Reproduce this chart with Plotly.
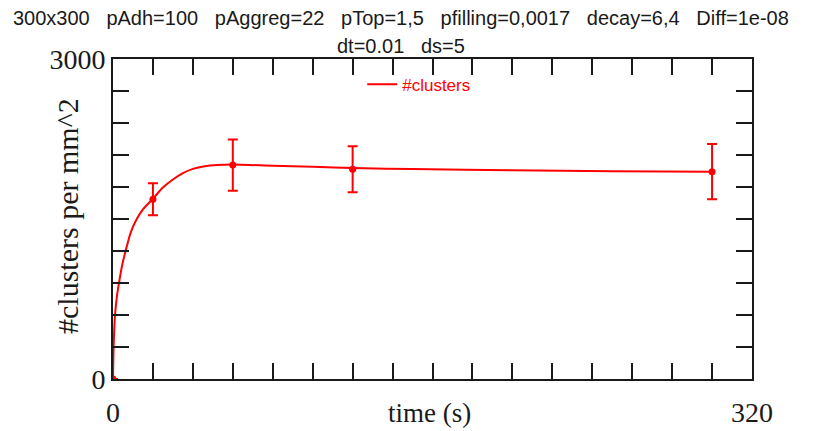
import plotly.graph_objects as go

# measured data points (time in s, clusters per mm^2, error)
pt_time = [0, 20, 60, 120, 300]
pt_value = [0, 1685, 2006, 1966, 1944]
pt_err = [0, 150, 240, 215, 260]

# smooth curve
curve_time = [0, 0.1, 0.3, 0.6, 1, 2, 3, 4.5, 6.3, 9, 11.9, 15, 20, 25, 30, 35, 40,
              46, 52, 60, 80, 100, 120, 150, 200, 250, 300]
curve_value = [0, 120, 300, 450, 600, 780, 900, 1060, 1200, 1380, 1500, 1590, 1690,
               1795, 1870, 1930, 1970, 1995, 2006, 2010, 2000, 1990, 1978,
               1968, 1956, 1948, 1942]

x_ticks = list(range(0, 321, 20))
x_ticktext = ["0"] + [""] * (len(x_ticks) - 2) + ["320"]
y_ticks = list(range(0, 3001, 300))
y_ticktext = ["0"] + [""] * (len(y_ticks) - 2) + ["3000"]

title1 = "300x300   pAdh=100   pAggreg=22   pTop=1,5   pfilling=0,0017   decay=6,4   Diff=1e-08"
title2 = "dt=0.01   ds=5"
x_title = "time (s)"
y_title = "#clusters per mm^2"

RED = "#ff0000"
INK = "#1a1a1a"
fig = go.Figure()
fig.add_trace(go.Scatter(x=curve_time, y=curve_value, mode="lines",
                         line=dict(color=RED, width=2, shape="spline", smoothing=0.8),
                         name="#clusters", showlegend=True))
fig.add_trace(go.Scatter(x=pt_time, y=pt_value, mode="markers",
                         marker=dict(color=RED, size=7),
                         error_y=dict(type="data", array=pt_err, color=RED,
                                      thickness=2, width=5),
                         showlegend=False))

serif = "Liberation Serif, Times New Roman, serif"
sans = "Liberation Sans, Arial, sans-serif"

# the page body adds an 8px offset, so the figure is drawn 8px smaller
fig.update_layout(
    width=809, height=423, autosize=False,
    margin=dict(l=105, r=65, t=51, b=52, autoexpand=False),
    paper_bgcolor="white", plot_bgcolor="white",
    showlegend=True,
    legend=dict(x=0.39, y=0.92, xanchor="left", yanchor="middle",
                bgcolor="rgba(0,0,0,0)", font=dict(family=sans, size=17, color=RED),
                itemwidth=30, tracegroupgap=0),
    xaxis=dict(range=[0, 320], tickvals=x_ticks, ticktext=x_ticktext, automargin=False,
               ticks="inside", ticklen=16, tickwidth=2, tickcolor=INK,
               showline=True, linecolor=INK, linewidth=2, mirror="ticks",
               showgrid=False, zeroline=False, ticklabelstandoff=7,
               tickfont=dict(family=serif, size=28, color=INK)),
    yaxis=dict(range=[0, 3000], tickvals=y_ticks, ticktext=y_ticktext, automargin=False,
               ticks="inside", ticklen=16, tickwidth=2, tickcolor=INK,
               showline=True, linecolor=INK, linewidth=2, mirror="ticks",
               showgrid=False, zeroline=False, ticklabelstandoff=0,
               tickfont=dict(family=serif, size=28, color=INK)),
    annotations=[
        dict(text=title1.replace(" ", "\u00a0"), xref="paper", yref="paper",
             x=0.4507, y=1.0, yshift=41, showarrow=False, xanchor="center", yanchor="middle",
             font=dict(family=sans, size=20, color=INK)),
        dict(text=title2.replace(" ", "\u00a0"), xref="paper", yref="paper",
             x=0.4507, y=1.0, yshift=13, showarrow=False, xanchor="center", yanchor="middle",
             font=dict(family=sans, size=20, color=INK)),
        dict(text=x_title, xref="paper", yref="paper", x=0.496, y=0, yshift=-34,
             showarrow=False, xanchor="center", yanchor="middle",
             font=dict(family=serif, size=27, color=INK)),
        dict(text=y_title, xref="paper", yref="paper", x=0, xshift=-46, y=0.5, yshift=3,
             textangle=-90, showarrow=False, xanchor="center", yanchor="middle",
             font=dict(family=serif, size=30, color=INK)),
    ],
)

fig.write_html("out.html")
